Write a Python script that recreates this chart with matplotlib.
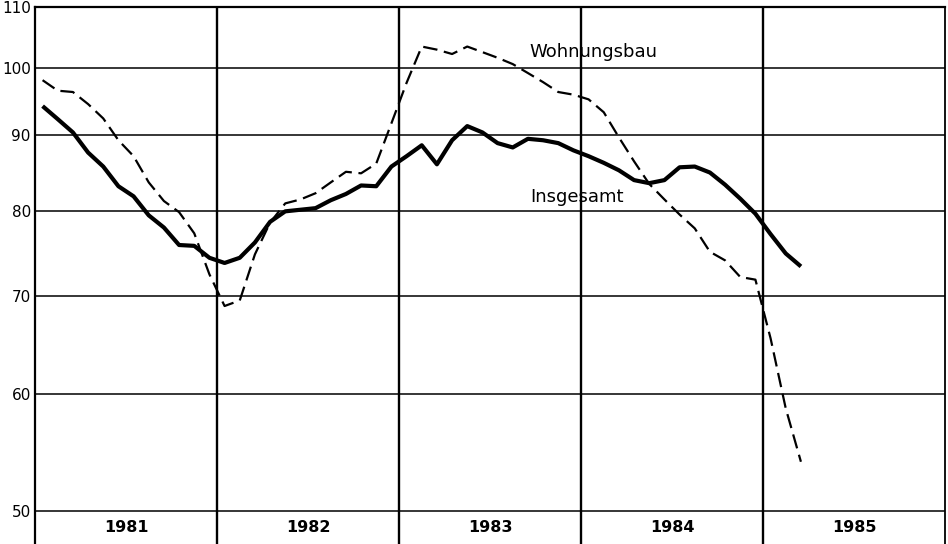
import numpy as np
import matplotlib
matplotlib.use("Agg")
import matplotlib.pyplot as plt

# Monthly index values, Jan 1981 - Mar 1985
insgesamt = [
    94.2, 92.3, 90.4, 87.6, 85.7, 83.1, 81.8, 79.4, 77.9, 75.8, 75.7, 74.3,   # 1981
    73.7, 74.3, 76.1, 78.6, 79.9, 80.1, 80.3, 81.3, 82.1, 83.2, 83.1, 85.7,   # 1982
    87.1, 88.6, 86.0, 89.3, 91.3, 90.4, 88.9, 88.3, 89.5, 89.3, 88.9, 87.9,   # 1983
    87.1, 86.2, 85.2, 83.9, 83.5, 83.9, 85.6, 85.7, 84.9, 83.3, 81.5, 79.6,   # 1984
    77.1, 74.8, 73.3,                                                         # 1985
]
wohnungsbau = [
    98.1, 96.5, 96.3, 94.5, 92.4, 89.3, 87.1, 83.6, 81.2, 79.8, 77.2, 72.4,
    68.9, 69.5, 74.7, 78.5, 80.9, 81.4, 82.2, 83.6, 85.0, 84.8, 86.1, 91.7,
    97.7, 103.4, 102.9, 102.2, 103.4, 102.5, 101.6, 100.6, 99.2, 97.8, 96.3, 95.9,
    95.2, 93.3, 89.7, 86.4, 83.4, 81.4, 79.5, 77.8, 75.0, 74.0, 72.1, 71.8,
    65.5, 58.7, 54.0,
]
years = [1981, 1982, 1983, 1984, 1985]
y_ticks = [50, 60, 70, 80, 90, 100, 110]

# x position: mid-month as decimal year
x = years[0] + (np.arange(len(insgesamt)) + 0.5) / 12

fig = plt.figure(figsize=(9.48, 5.44), dpi=100)
ax = fig.add_axes([35 / 948, 0, 910 / 948, 537 / 544])

ax.set_yscale("log")
ax.set_ylim(47.48, 110)
ax.set_xlim(years[0], years[-1] + 1)

# grid
for v in y_ticks:
    ax.axhline(v, color="black", lw=1.1, zorder=1)
for yr in years[1:]:
    ax.axvline(yr, color="black", lw=1.7, zorder=1)

ax.plot(x, wohnungsbau, color="black", lw=1.6, dashes=(6.5, 3), zorder=3)
ax.plot(x, insgesamt, color="black", lw=3.0, solid_capstyle="butt", zorder=4)

ax.text(1983.714, 102.5, "Wohnungsbau", fontsize=13, ha="left", va="center")
ax.text(1983.72, 81.7, "Insgesamt", fontsize=13, ha="left", va="center")

# year labels inside the bottom strip
for yr in years:
    ax.text(yr + 0.5, 17 / 537, str(yr), transform=ax.get_xaxis_transform(),
            ha="center", va="center", fontsize=11.5, fontweight="bold")

ax.set_yticks(y_ticks)
ax.set_yticklabels([str(v) for v in y_ticks], fontsize=11)
ax.yaxis.set_minor_locator(matplotlib.ticker.NullLocator())
ax.tick_params(axis="y", length=0, pad=3)
ax.set_xticks([])

ax.spines["bottom"].set_visible(False)
ax.spines["left"].set_linewidth(1.6)
ax.spines["top"].set_linewidth(1.6)
ax.spines["right"].set_linewidth(1.3)

fig.savefig("out.png", dpi=100)
